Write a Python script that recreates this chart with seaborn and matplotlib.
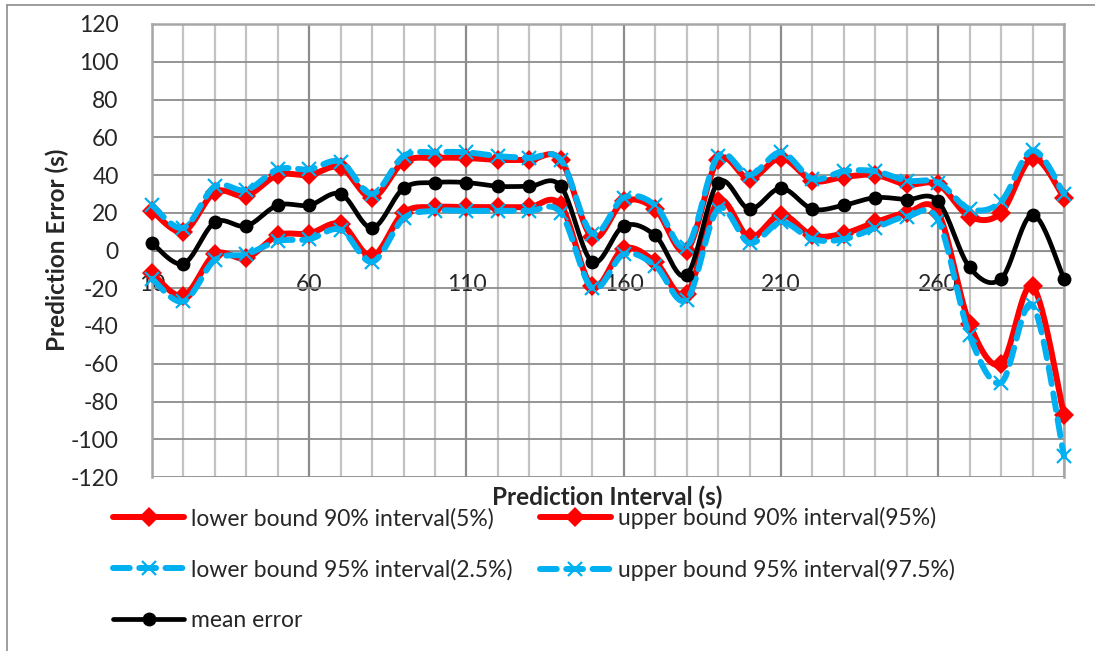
import numpy as np
import matplotlib
matplotlib.use("Agg")
import matplotlib.pyplot as plt
import seaborn as sns
import pandas as pd
from matplotlib.lines import Line2D

# ---------------- data ----------------
intervals = [10, 20, 30, 40, 50, 60, 70, 80, 90, 100,
             110, 120, 130, 140, 150, 160, 170, 180, 190, 200,
             210, 220, 230, 240, 250, 260, 270, 280, 290, 300]
tick_labels = ["10", "60", "110", "160", "210", "260"]

lower90 = [-12, -24, -2, -4, 8, 9, 14, -3, 20, 23,
           23, 23, 23, 24, -19, 1, -6, -23, 26, 7,
           19, 8, 9, 15, 20, 20, -39, -60, -19, -87]
upper90 = [21, 10, 31, 29, 40, 40, 44, 28, 47, 49,
           49, 48, 48, 48, 7, 26, 22, 0, 48, 38,
           49, 37, 39, 40, 35, 35, 18, 20, 49, 28]
lower95 = [-15, -27, -5, -2, 5, 6, 11, -6, 17, 21,
           21, 21, 21, 20, -20, -2, -8, -26, 22, 4,
           15, 6, 6, 12, 18, 16, -45, -70, -29, -109]
upper95 = [24, 12, 34, 32, 43, 43, 47, 30, 50, 52,
           52, 50, 49, 48, 9, 28, 24, 2, 50, 40,
           52, 38, 42, 42, 37, 36, 22, 26, 53, 30]
mean_err = [4, -7, 15, 13, 24, 24, 30, 12, 33, 36,
            36, 34, 34, 34, -6, 13, 8, -13, 36, 22,
            33, 22, 24, 28, 27, 26, -9, -15, 19, -15]

names = ["lower bound 90% interval(5%)", "upper bound 90% interval(95%)",
         "lower bound 95% interval(2.5%)", "upper bound 95% interval(97.5%)",
         "mean error"]

# ---------------- style ----------------
sns.set_style("white")
plt.rcParams["font.family"] = ["Lato", "DejaVu Sans"]
plt.rcParams["axes.unicode_minus"] = False

FS = 16.5
W, H = 1095, 651
fig = plt.figure(figsize=(W / 100, H / 100), dpi=100)
ax = fig.add_axes([152 / W, 1 - 477 / H, (1064 - 152) / W, (477 - 24) / H])


def smooth(xs, ys, n=24):
    """Excel-style smoothed line (Catmull-Rom / Bezier) for drawing."""
    x = np.asarray(xs, float)
    y = np.asarray(ys, float)
    xp = np.concatenate([[x[0]], x, [x[-1]]])
    yp = np.concatenate([[y[0]], y, [y[-1]]])
    ox, oy = [], []
    for i in range(len(x) - 1):
        p0x, p1x, p2x, p3x = xp[i], xp[i + 1], xp[i + 2], xp[i + 3]
        p0y, p1y, p2y, p3y = yp[i], yp[i + 1], yp[i + 2], yp[i + 3]
        c1x, c1y = p1x + (p2x - p0x) / 6, p1y + (p2y - p0y) / 6
        c2x, c2y = p2x - (p3x - p1x) / 6, p2y - (p3y - p1y) / 6
        t = np.linspace(0, 1, n, endpoint=(i == len(x) - 2))
        b0, b1, b2, b3 = (1 - t) ** 3, 3 * (1 - t) ** 2 * t, 3 * (1 - t) * t ** 2, t ** 3
        ox.append(b0 * p1x + b1 * c1x + b2 * c2x + b3 * p2x)
        oy.append(b0 * p1y + b1 * c1y + b2 * c2y + b3 * p2y)
    return np.concatenate(ox), np.concatenate(oy)


red = "#FF0000"
blue = "#00B0F0"
styles = [
    dict(series=lower90, color=red, lw=4.3, dashes=None, marker="D", ms=10.5, mew=0),
    dict(series=upper90, color=red, lw=4.3, dashes=None, marker="D", ms=10.5, mew=0),
    dict(series=lower95, color=blue, lw=4.3, dashes=(2.8, 1.6), marker="x", ms=10, mew=1.6),
    dict(series=upper95, color=blue, lw=4.3, dashes=(2.8, 1.6), marker="x", ms=10, mew=1.6),
    dict(series=mean_err, color="black", lw=3.4, dashes=None, marker="o", ms=10, mew=0),
]

handles = []
for k, (nm, st) in enumerate(zip(names, styles)):
    sx, sy = smooth(intervals, st["series"])
    df = pd.DataFrame({"x": sx, "y": sy})
    sns.lineplot(data=df, x="x", y="y", ax=ax, estimator=None, sort=False,
                 color=st["color"], linewidth=st["lw"], zorder=3 + k, legend=False)
    line = ax.get_lines()[-1]
    line.set_clip_on(False)
    if st["dashes"] is not None:
        line.set_dashes(st["dashes"])
        line.set_dash_capstyle("round")
    ax.plot(intervals, st["series"], linestyle="none", marker=st["marker"],
            markersize=st["ms"], color=st["color"], markeredgewidth=st["mew"],
            markeredgecolor=st["color"], zorder=3 + k, clip_on=False)
    h = Line2D([], [], color=st["color"], linewidth=st["lw"], marker=st["marker"],
               markersize=st["ms"], markeredgewidth=st["mew"], markeredgecolor=st["color"])
    if st["dashes"] is not None:
        h.set_dashes(st["dashes"])
        h.set_dash_capstyle("round")
    handles.append(h)

# ---------------- axes ----------------
ax.set_xlim(intervals[0], intervals[-1])
ax.set_ylim(-120, 120)
ax.set_yticks(np.arange(-120, 121, 20))
ax.set_xticks(intervals, minor=True)
ax.set_xticks([int(t) for t in tick_labels])
ax.set_xticklabels(tick_labels)
ax.spines["bottom"].set_position(("data", 0))
ax.spines["bottom"].set_color("#8c8c8c")
for s in ["left", "right", "top"]:
    ax.spines[s].set_color("#a6a6a6")
    ax.spines[s].set_linewidth(1.8)
ax.grid(False)
ax.grid(True, axis="y", which="major", color="#8c8c8c", linewidth=1.3, zorder=0)
ax.grid(True, axis="x", which="minor", color="#c3c3c3", linewidth=1.6, zorder=0)
ax.grid(True, axis="x", which="major", color="#8c8c8c", linewidth=1.6, zorder=0)
ax.tick_params(axis="x", which="both", length=0, pad=17, labelsize=FS)
ax.tick_params(axis="y", length=0, pad=24, labelsize=FS)
ax.set_xlabel("")
ax.set_ylabel("")

fig.text(57 / W, 1 - 250 / H, "Prediction Error (s)", rotation=90, ha="center",
         va="center", fontsize=17.5, fontweight="bold")
fig.text(607 / W, 1 - 497 / H, "Prediction Interval (s)", ha="center",
         va="center", fontsize=17.5, fontweight="bold")

order = [0, 2, 4, 1, 3]
leg = ax.legend([handles[i] for i in order], [names[i] for i in order],
                ncol=2, loc="upper left", bbox_to_anchor=(113 / W, 1 - 507 / H),
                bbox_transform=fig.transFigure, frameon=False, fontsize=FS,
                handlelength=3.1, handletextpad=0.3, columnspacing=1.2,
                labelspacing=1.3, borderpad=0, borderaxespad=0)

# outer chart frame (top and left edges visible)
fig.add_artist(Line2D([7 / W, 7 / W], [0, 1 - 5 / H], transform=fig.transFigure,
                      color="#8c8c8c", linewidth=1.2))
fig.add_artist(Line2D([7 / W, 1], [1 - 5 / H, 1 - 5 / H], transform=fig.transFigure,
                      color="#8c8c8c", linewidth=1.2))

fig.savefig("out.png", dpi=100)
